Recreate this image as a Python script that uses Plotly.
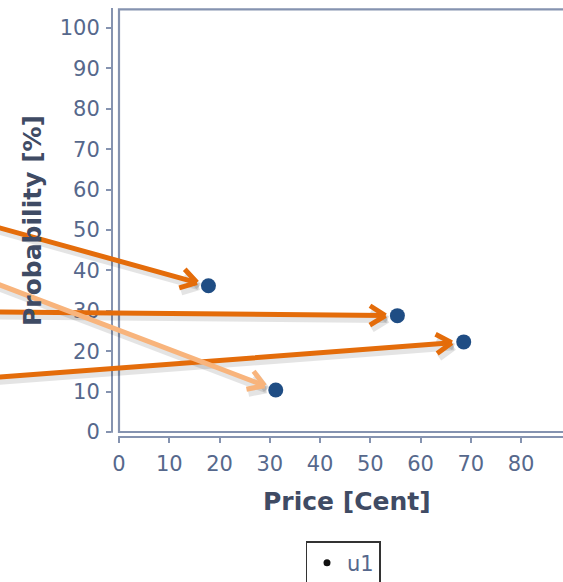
import math
import plotly.graph_objects as go

# ---- data ----
PRICE = [17.8, 55.4, 68.6, 31.2]
PROB = [36.2, 28.8, 22.3, 10.4]
SERIES_NAME = "u1"
X_TICKS = [0, 10, 20, 30, 40, 50, 60, 70, 80]
Y_TICKS = [0, 10, 20, 30, 40, 50, 60, 70, 80, 90, 100]
X_TITLE = "Price [Cent]"
Y_TITLE = "Probability [%]"

# arrows: target point index, start (data coords, off the left edge), style
ARROW_TARGET = [0, 1, 2, 3]
ARROW_START_X = [-23.7, -23.7, -23.7, -23.7]
ARROW_START_Y = [50.5, 29.7, 13.6, 36.4]
ARROW_LIGHT = [False, False, False, True]

# ---- layout constants (page pixels) ----
W, H = 580, 610
L, R, T, B = 112, 574, 8, 437
XMIN = (L - 119) / 5.025
XMAX = (R - 119) / 5.025
YMIN = (432 - B) / 4.04
YMAX = (432 - T) / 4.04
FRAME_TOP = 104.6

AXIS_COLOR = "#8593B0"
TICK_FONT = "#56688C"
TITLE_FONT = "#3F4B64"
MARKER = "#1F4D84"
DARK_OR = "#E46C0A"
LIGHT_OR = "#F8B47C"


def x2px(x):
    return L + (x - XMIN) / (XMAX - XMIN) * (R - L)


def y2px(y):
    return B - (y - YMIN) / (YMAX - YMIN) * (B - T)


def px2x(p):
    return XMIN + (p - L) / (R - L) * (XMAX - XMIN)


def py2y(p):
    return YMIN + (B - p) / (B - T) * (YMAX - YMIN)


def fx(x):
    return (x - XMIN) / (XMAX - XMIN)


def fy(y):
    return (y - YMIN) / (YMAX - YMIN)


fig = go.Figure()
fig.add_trace(go.Scatter(
    x=PRICE, y=PROB, mode="markers", name=SERIES_NAME, showlegend=False,
    marker=dict(color=MARKER, size=15, line=dict(width=0)),
))
fig.add_trace(go.Scatter(
    x=[None], y=[None], mode="markers", name=SERIES_NAME, showlegend=True,
    marker=dict(color="#111111", size=7),
))

annotations = []


def seg(p_from, p_to, color, width, dx=0, dy=0):
    annotations.append(dict(
        x=px2x(p_to[0] + dx), y=py2y(p_to[1] + dy),
        ax=px2x(p_from[0] + dx), ay=py2y(p_from[1] + dy),
        xref="x", yref="y", axref="x", ayref="y",
        text="", showarrow=True, arrowhead=0, arrowwidth=width,
        arrowcolor=color, font=dict(size=1), standoff=0, startstandoff=0,
    ))


STANDOFF = 12
ARM_LEN = 20
ARM_ANG = math.radians(32)

for layer in ("shadow", "main"):
    for i, tgt in enumerate(ARROW_TARGET):
        sx, sy = x2px(ARROW_START_X[i]), y2px(ARROW_START_Y[i])
        cx, cy = x2px(PRICE[tgt]), y2px(PROB[tgt])
        dlen = math.hypot(cx - sx, cy - sy)
        ux, uy = (cx - sx) / dlen, (cy - sy) / dlen
        tip = (cx - ux * STANDOFF, cy - uy * STANDOFF)
        if layer == "shadow":
            col, wid, dx, dy = "rgba(0,0,0,0.10)", 7, 2, 4
        else:
            col = LIGHT_OR if ARROW_LIGHT[i] else DARK_OR
            wid, dx, dy = 5, 0, 0
        seg((sx - ux * 20, sy - uy * 20), tip, col, wid, dx, dy)
        for sgn in (1, -1):
            a = sgn * ARM_ANG
            bx, by = -ux, -uy
            rx = bx * math.cos(a) - by * math.sin(a)
            ry = bx * math.sin(a) + by * math.cos(a)
            arm_end = (tip[0] + rx * ARM_LEN, tip[1] + ry * ARM_LEN)
            seg(arm_end, tip, col, wid, dx, dy)

# axis titles
annotations.append(dict(
    text=X_TITLE, xref="paper", yref="paper", x=(347 - L) / (R - L),
    y=(B - 501) / (B - T), xanchor="center", yanchor="middle", showarrow=False,
    font=dict(family="DejaVu Sans", size=25, color=TITLE_FONT, weight="bold"),
))
annotations.append(dict(
    text=Y_TITLE, xref="paper", yref="paper", x=(33 - L) / (R - L),
    y=(B - 221) / (B - T), xanchor="center", yanchor="middle", showarrow=False,
    textangle=-90,
    font=dict(family="DejaVu Sans", size=25, color=TITLE_FONT, weight="bold"),
))

shapes = [
    dict(type="rect", xref="x domain", yref="y domain",
         x0=fx(0), x1=1.05, y0=fy(0), y1=fy(FRAME_TOP),
         line=dict(color=AXIS_COLOR, width=2.2), fillcolor="rgba(0,0,0,0)"),
    dict(type="line", xref="x domain", yref="y domain",
         x0=0, x1=0, y0=fy(0) - 0.002, y1=1.0,
         line=dict(color=AXIS_COLOR, width=2)),
    dict(type="line", xref="x domain", yref="y domain",
         x0=fx(0) - 0.002, x1=1.05, y0=0, y1=0,
         line=dict(color=AXIS_COLOR, width=2)),
]

fig.update_layout(
    width=W, height=H,
    margin=dict(l=L, r=W - R, t=T, b=H - B, pad=0, autoexpand=False),
    paper_bgcolor="white", plot_bgcolor="white",
    font=dict(family="DejaVu Sans", color=TICK_FONT),
    xaxis=dict(range=[XMIN, XMAX], tickvals=X_TICKS, ticks="outside",
               ticklen=5, tickwidth=1.5, tickcolor=AXIS_COLOR,
               ticklabelstandoff=3,
               showline=False, showgrid=False, zeroline=False,
               tickfont=dict(size=21, color=TICK_FONT)),
    yaxis=dict(range=[YMIN, YMAX], tickvals=Y_TICKS, ticks="outside",
               ticklen=5, tickwidth=1.5, tickcolor=AXIS_COLOR,
               ticklabelstandoff=2,
               showline=False, showgrid=False, zeroline=False,
               tickfont=dict(size=21, color=TICK_FONT)),
    legend=dict(orientation="h", x=(343 - L) / (R - L), xanchor="center",
                y=(B - 541) / (B - T), yanchor="top",
                bordercolor="#333333", borderwidth=1.5,
                font=dict(size=21, color=TICK_FONT)),
    shapes=shapes,
    annotations=annotations,
)

fig.write_html(
    "out.html",
    config={"displayModeBar": False},
    post_script="document.body.style.margin='0';document.body.style.overflow='hidden';",
)
